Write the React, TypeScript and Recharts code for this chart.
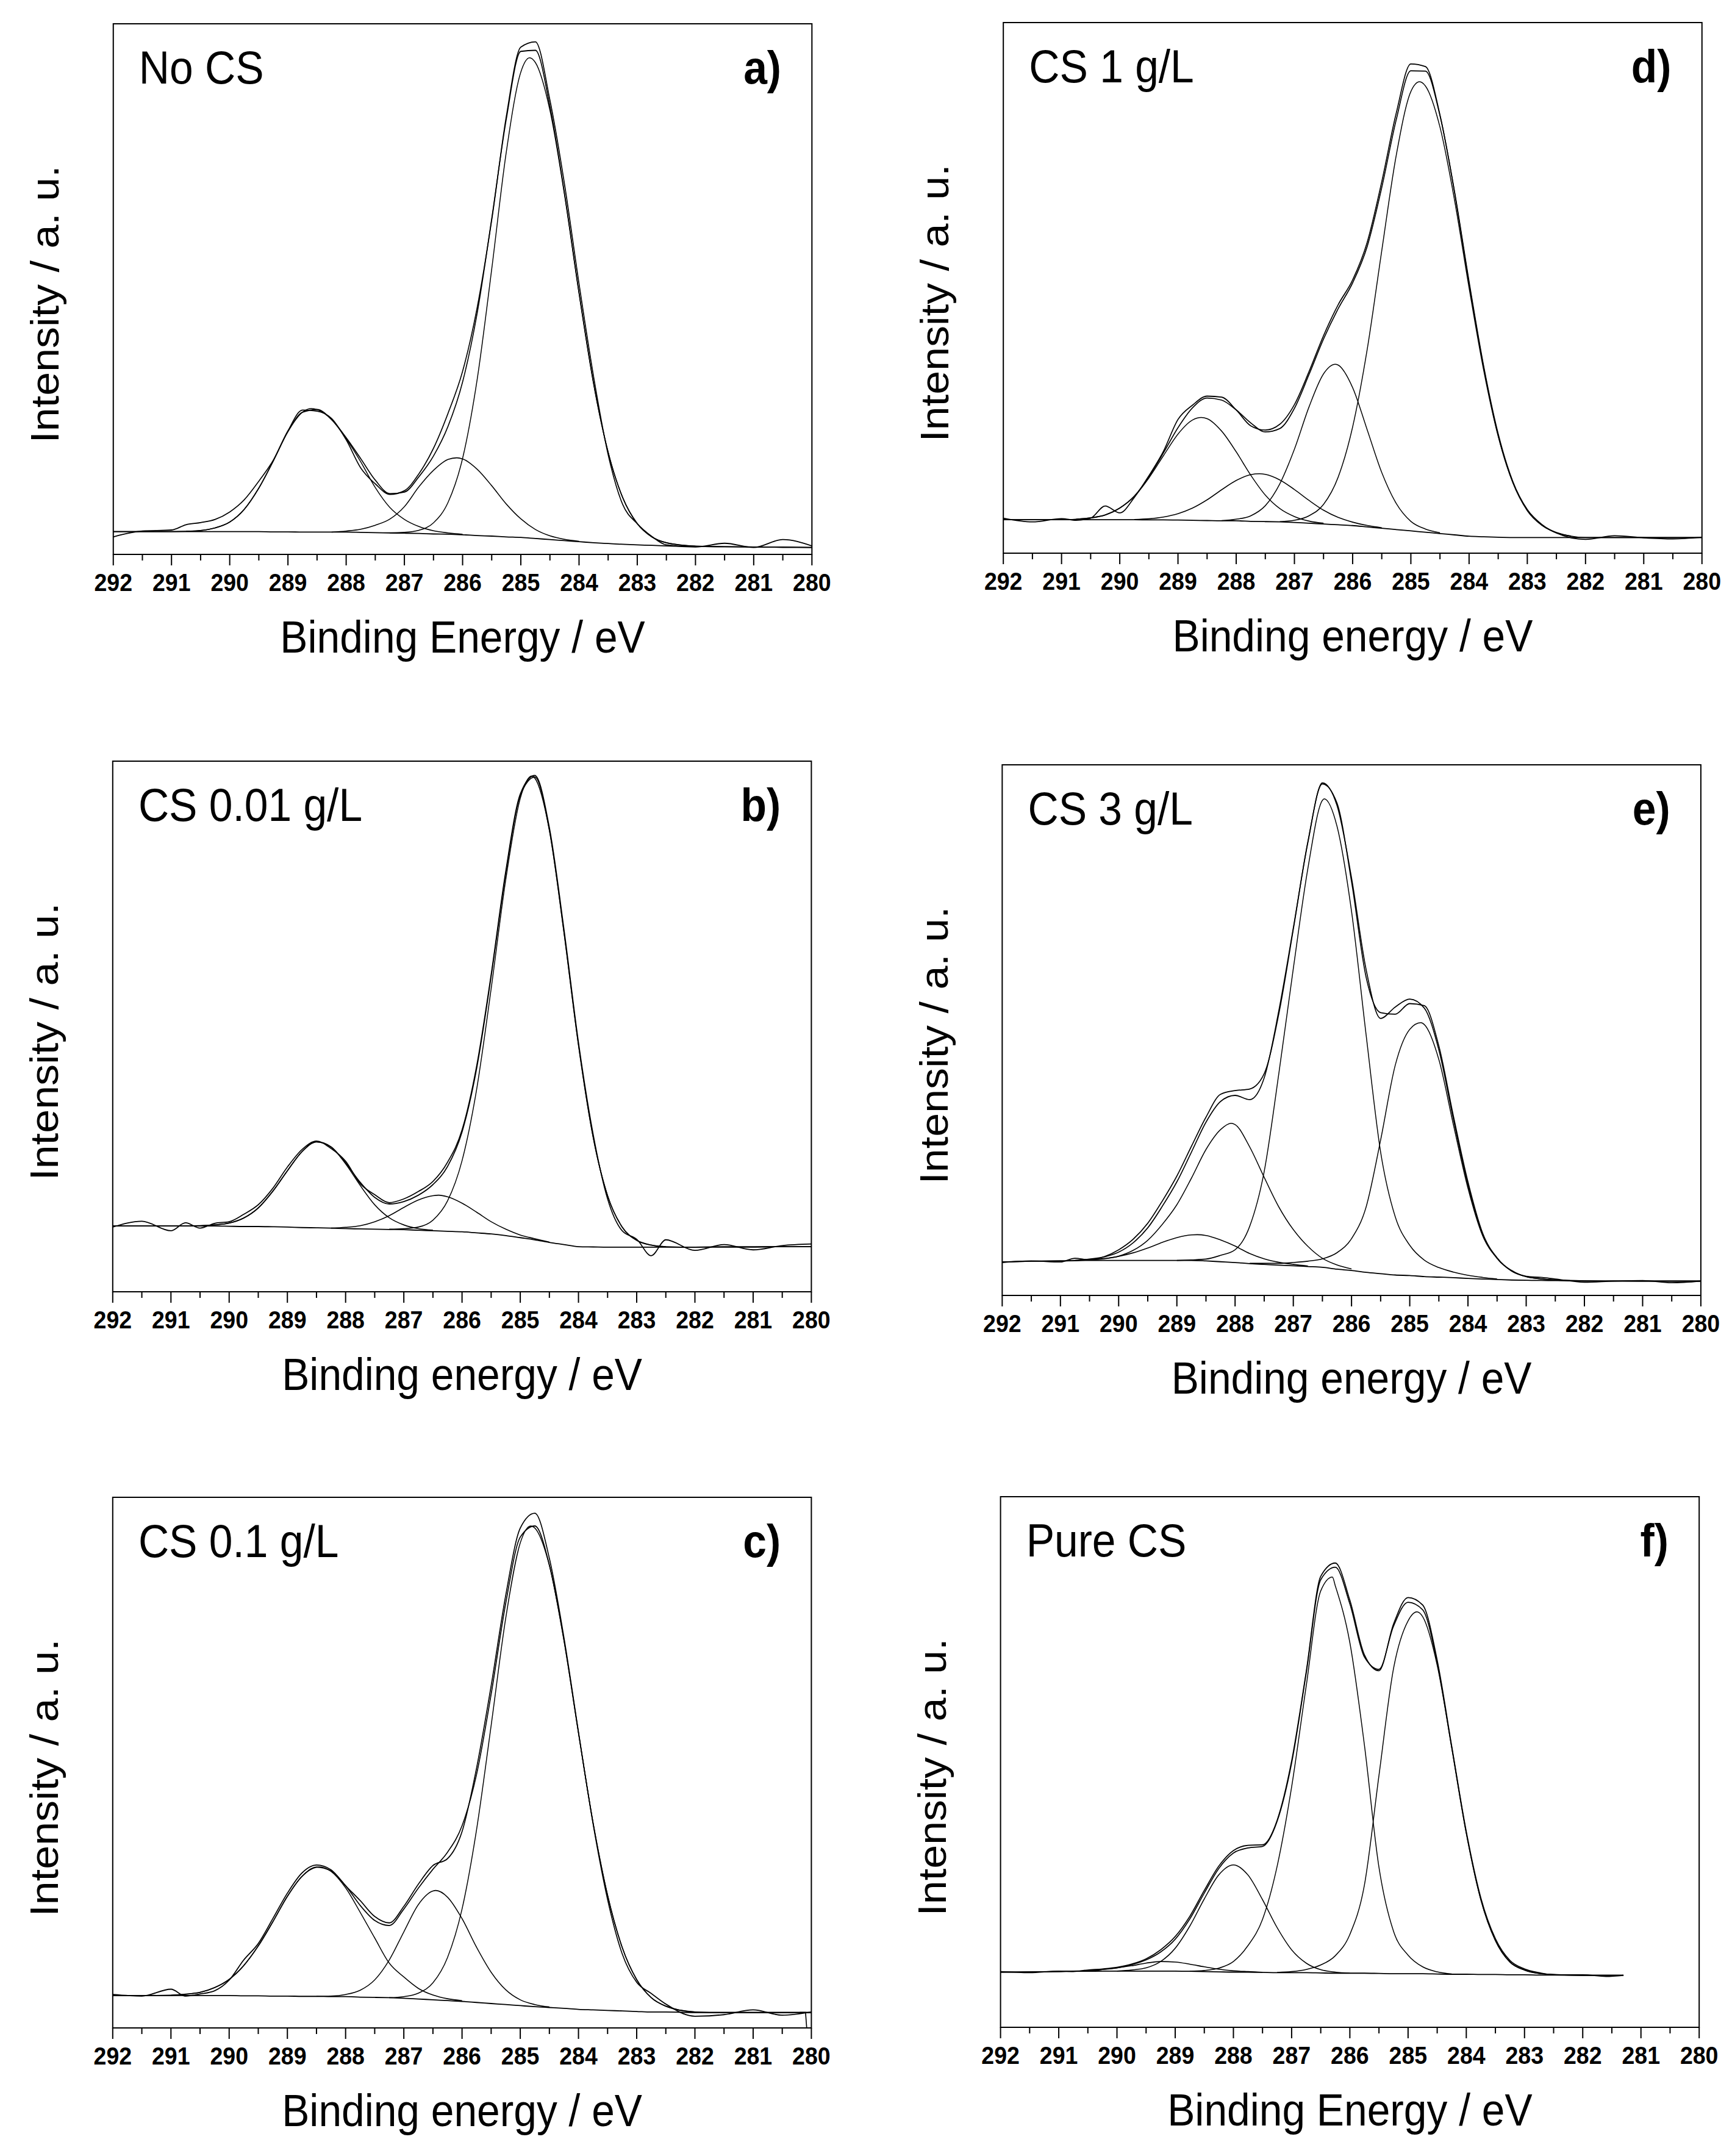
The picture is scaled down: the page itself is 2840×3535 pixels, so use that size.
import React from 'react';
import { LineChart, Line, XAxis, YAxis, ReferenceArea } from 'recharts';

type Pair = [number, number];

// binding energy grid (eV) shared by background / envelope / measured curves
const gridE = [292, 291.5, 291, 290.75, 290.5, 290.25, 290, 289.75, 289.5, 289.25, 289, 288.75, 288.5, 288.25, 288, 287.75, 287.5, 287.25, 287, 286.75, 286.5, 286.25, 286, 285.75, 285.5, 285.25, 285, 284.75, 284.5, 284.25, 284, 283.75, 283.5, 283.25, 283, 282.75, 282.5, 282, 281.5, 281, 280.5, 280];
const gridF = [292, 291.5, 291, 290.75, 290.5, 290.25, 290, 289.75, 289.5, 289.25, 289, 288.75, 288.5, 288.25, 288, 287.75, 287.5, 287.25, 287, 286.75, 286.5, 286.25, 286, 285.75, 285.5, 285.25, 285, 284.75, 284.5, 284.25, 284, 283.75, 283.5, 283.25, 283, 282.75, 282.5, 282, 281.6, 281.3];
const xTicks = [292, 291.5, 291, 290.5, 290, 289.5, 289, 288.5, 288, 287.5, 287, 286.5, 286, 285.5, 285, 284.5, 284, 283.5, 283, 282.5, 282, 281.5, 281, 280.5, 280];

// a) No CS
const bgA = [4.3, 4.3, 4.3, 4.3, 4.3, 4.3, 4.3, 4.3, 4.3, 4.25, 4.25, 4.2, 4.2, 4.2, 4.2, 4.15, 4.1, 4.05, 4.0, 3.95, 3.85, 3.8, 3.7, 3.55, 3.45, 3.3, 3.2, 3.0, 2.8, 2.6, 2.4, 2.2, 2.05, 1.9, 1.8, 1.7, 1.6, 1.5, 1.45, 1.4, 1.35, 1.3];
const envA = [4.3, 4.3, 4.3, 4.35, 4.5, 5.0, 6.1, 8.5, 12.5, 17.65, 23.15, 26.8, 27.3, 25.4, 22.0, 18.05, 14.0, 11.45, 11.75, 14.65, 18.55, 24.15, 32.5, 45.45, 63.25, 82.0, 94.8, 95.0, 84.4, 68.05, 49.3, 32.2, 19.25, 10.7, 5.8, 3.3, 2.2, 1.55, 1.45, 1.4, 1.35, 1.3];
const expA = [3.3, 4.4, 4.6, 5.6, 6.0, 6.6, 8.0, 10.3, 13.8, 17.8, 23.3, 27.2, 27.0, 25.6, 21.6, 16.3, 13.3, 11.3, 12.0, 15.2, 20.0, 26.6, 34.5, 46.5, 63.0, 82.5, 95.6, 96.6, 85.6, 69.8, 51.0, 33.5, 18.8, 9.4, 5.8, 3.4, 1.8, 1.4, 2.1, 1.3, 2.8, 1.6];
const compA1: Pair[] = [[290.75, 4.35], [290.5, 4.5], [290.25, 5.0], [290, 6.1], [289.75, 8.5], [289.5, 12.5], [289.25, 17.65], [289, 23.15], [288.75, 26.8], [288.6, 27.5], [288.5, 27.3], [288.25, 25.4], [288, 21.8], [287.75, 17.45], [287.5, 12.6], [287.25, 8.85], [287, 6.6], [286.75, 5.25], [286.5, 4.45], [286.25, 4.05], [286, 3.8]];
const compA2: Pair[] = [[288.25, 4.2], [288, 4.4], [287.75, 4.75], [287.5, 5.5], [287.25, 6.65], [287, 9.0], [286.75, 12.75], [286.5, 15.85], [286.25, 17.9], [286.1, 18.2], [286, 18.0], [285.75, 16.05], [285.5, 12.95], [285.25, 9.5], [285, 6.7], [284.75, 4.7], [284.5, 3.5], [284.25, 2.85], [284, 2.48]];
const compA3: Pair[] = [[287.25, 4.05], [287, 4.15], [286.75, 4.55], [286.5, 5.95], [286.25, 9.8], [286, 18.1], [285.75, 32.95], [285.5, 53.75], [285.25, 75.8], [285, 90.9], [284.85, 93.6], [284.75, 92.7], [284.5, 83.7], [284.25, 67.8], [284, 49.2], [283.75, 32.2], [283.5, 19.25], [283.25, 10.7], [283, 5.8], [282.75, 3.3], [282.5, 2.2], [282, 1.55]];

// b) CS 0.01 g/L
const bgB = [12.4, 12.4, 12.4, 12.4, 12.4, 12.4, 12.35, 12.3, 12.3, 12.25, 12.2, 12.1, 12.05, 12.0, 11.9, 11.85, 11.8, 11.75, 11.7, 11.6, 11.5, 11.4, 11.3, 11.1, 10.9, 10.6, 10.2, 9.8, 9.3, 8.9, 8.5, 8.45, 8.4, 8.4, 8.4, 8.4, 8.4, 8.4, 8.45, 8.45, 8.5, 8.5];
const envB = [12.4, 12.4, 12.4, 12.4, 12.45, 12.6, 12.95, 13.9, 15.8, 18.95, 22.8, 26.4, 28.25, 27.3, 24.3, 20.65, 17.8, 16.55, 17.0, 18.2, 20.2, 23.6, 30.1, 42.0, 59.4, 78.8, 93.5, 97.0, 87.0, 67.8, 46.5, 29.25, 18.1, 12.2, 9.7, 8.8, 8.5, 8.4, 8.45, 8.45, 8.5, 8.5];
const expB = [12.2, 13.3, 11.5, 13.0, 12.0, 12.9, 13.2, 14.6, 16.4, 19.5, 23.5, 26.8, 28.4, 27.0, 24.6, 20.4, 18.3, 16.8, 17.5, 18.9, 20.8, 24.4, 30.5, 42.5, 59.8, 79.2, 93.8, 97.3, 87.5, 68.4, 47.0, 29.8, 17.5, 11.5, 9.9, 6.8, 9.8, 7.8, 8.9, 7.9, 8.7, 9.0];
const compB1: Pair[] = [[290.5, 12.45], [290.25, 12.6], [290, 12.95], [289.75, 13.9], [289.5, 15.8], [289.25, 18.95], [289, 22.8], [288.75, 26.4], [288.5, 28.25], [288.25, 27.3], [288, 24.1], [287.75, 20.05], [287.5, 16.4], [287.25, 13.95], [287, 12.6], [286.75, 11.9], [286.5, 11.6]];
const compB2: Pair[] = [[288.25, 12.0], [288, 12.15], [287.75, 12.45], [287.5, 13.2], [287.25, 14.35], [287, 15.9], [286.75, 17.3], [286.5, 18.1], [286.4, 18.2], [286.25, 17.9], [286, 16.7], [285.75, 15.0], [285.5, 13.2], [285.25, 11.8], [285, 10.7], [284.75, 10.0], [284.5, 9.35]];
const compB3: Pair[] = [[287.25, 11.8], [287, 11.9], [286.75, 12.2], [286.5, 13.5], [286.25, 17.1], [286, 24.7], [285.75, 38.1], [285.5, 57.1], [285.25, 77.6], [285, 93.0], [284.8, 97.2], [284.75, 96.8], [284.5, 87.0], [284.25, 67.8], [284, 46.5], [283.75, 29.25], [283.5, 18.1], [283.25, 12.2], [283, 9.7], [282.75, 8.8], [282.5, 8.5]];

// c) CS 0.1 g/L
const bgC = [6.1, 6.1, 6.1, 6.1, 6.1, 6.1, 6.1, 6.05, 6.05, 6.0, 6.0, 5.95, 5.95, 5.9, 5.9, 5.8, 5.75, 5.7, 5.6, 5.45, 5.3, 5.15, 5.0, 4.8, 4.6, 4.4, 4.2, 4.0, 3.85, 3.7, 3.5, 3.4, 3.3, 3.2, 3.1, 3.0, 3.0, 2.9, 2.9, 2.9, 2.9, 2.9];
const envC = [6.1, 6.1, 6.15, 6.35, 6.7, 7.6, 9.15, 11.75, 15.45, 20.0, 24.8, 28.55, 30.3, 29.6, 26.8, 23.1, 20.25, 19.3, 22.4, 26.35, 29.9, 33.1, 38.1, 47.8, 62.9, 80.0, 92.5, 94.6, 87.25, 73.1, 55.6, 38.7, 25.0, 15.2, 9.1, 5.7, 4.1, 3.0, 2.9, 2.9, 2.9, 2.9];
const expC = [6.3, 6.0, 7.3, 6.0, 6.4, 7.0, 9.0, 12.8, 15.9, 20.6, 25.4, 29.2, 30.7, 29.8, 26.8, 24.0, 21.0, 19.8, 22.9, 27.1, 30.6, 31.9, 37.0, 49.0, 64.5, 81.5, 94.2, 97.0, 88.5, 73.6, 55.8, 38.5, 24.2, 14.0, 8.6, 6.5, 4.5, 2.2, 2.5, 3.4, 2.4, 3.0];
const compC1: Pair[] = [[291, 6.15], [290.75, 6.35], [290.5, 6.7], [290.25, 7.6], [290, 9.15], [289.75, 11.75], [289.5, 15.45], [289.25, 20.0], [289, 24.8], [288.75, 28.55], [288.5, 30.3], [288.45, 30.35], [288.25, 29.5], [288, 26.4], [287.75, 21.8], [287.5, 16.95], [287.25, 12.2], [287, 9.6], [286.75, 7.45], [286.5, 6.2], [286.25, 5.5], [286, 5.15]];
const compC2: Pair[] = [[288.5, 5.95], [288.25, 6.0], [288, 6.3], [287.75, 7.1], [287.5, 9.05], [287.25, 12.8], [287, 18.1], [286.75, 23.25], [286.5, 25.8], [286.45, 25.9], [286.25, 24.65], [286, 20.6], [285.75, 15.2], [285.5, 10.5], [285.25, 7.2], [285, 5.3], [284.75, 4.4], [284.5, 3.95]];
const compC3: Pair[] = [[287.25, 5.7], [287, 5.9], [286.75, 6.55], [286.5, 8.5], [286.25, 13.25], [286, 22.4], [285.75, 37.4], [285.5, 57.0], [285.25, 77.2], [285, 91.4], [284.82, 94.6], [284.75, 94.2], [284.5, 87.15], [284.25, 73.1], [284, 55.6], [283.75, 38.7], [283.5, 25.0], [283.25, 15.2], [283, 9.1], [282.75, 5.7], [282.5, 4.1], [282.25, 3.35], [282, 3.0]];
// last recorded channel of c) drops to zero
const tailC: Pair[] = [[280.2, 2.9], [280.1, 2.9], [280.08, 0]];

// d) CS 1 g/L
const bgD = [6.3, 6.3, 6.3, 6.3, 6.3, 6.3, 6.3, 6.3, 6.28, 6.27, 6.25, 6.2, 6.15, 6.1, 6.1, 6.0, 5.95, 5.9, 5.8, 5.65, 5.5, 5.35, 5.2, 4.95, 4.7, 4.45, 4.2, 3.95, 3.7, 3.45, 3.2, 3.1, 3.0, 2.95, 2.95, 2.95, 2.95, 2.95, 2.95, 2.95, 2.95, 2.95];
const envD = [6.3, 6.3, 6.3, 6.4, 6.65, 7.2, 8.5, 10.75, 14.4, 18.9, 23.65, 27.4, 29.25, 28.85, 27.0, 24.55, 22.85, 23.5, 27.3, 33.65, 40.35, 46.05, 50.95, 57.8, 68.9, 81.75, 90.9, 90.85, 82.45, 68.15, 51.2, 35.3, 22.5, 13.55, 8.15, 5.3, 3.9, 2.95, 2.95, 2.95, 2.95, 2.95];
const expD = [6.6, 5.9, 6.5, 6.2, 6.6, 8.9, 7.6, 10.5, 14.6, 19.2, 25.2, 27.9, 29.6, 29.4, 27.0, 24.0, 23.2, 24.3, 28.0, 34.2, 41.0, 46.8, 51.5, 58.6, 70.0, 83.0, 92.2, 91.7, 82.6, 68.0, 50.8, 35.0, 22.2, 13.4, 8.2, 5.4, 3.8, 2.6, 3.3, 2.9, 2.7, 3.0];
const compD1: Pair[] = [[290.75, 6.4], [290.5, 6.65], [290.25, 7.2], [290, 8.5], [289.75, 10.7], [289.5, 14.18], [289.25, 18.37], [289, 22.45], [288.75, 25.1], [288.6, 25.57], [288.5, 25.35], [288.25, 23.0], [288, 19.1], [287.75, 14.7], [287.5, 10.95], [287.25, 8.4], [287, 6.9], [286.75, 6.05], [286.5, 5.65]];
const compD2: Pair[] = [[289.75, 6.35], [289.5, 6.48], [289.25, 6.82], [289, 7.45], [288.75, 8.5], [288.5, 10.05], [288.25, 11.95], [288, 13.7], [287.75, 14.8], [287.6, 14.97], [287.5, 14.85], [287.25, 13.8], [287, 12.0], [286.75, 9.95], [286.5, 8.1], [286.25, 6.75], [286, 5.85], [285.75, 5.22], [285.5, 4.8]];
const compD3: Pair[] = [[288.25, 6.15], [288, 6.4], [287.75, 7.05], [287.5, 8.95], [287.25, 13.1], [287, 19.6], [286.75, 27.55], [286.5, 33.8], [286.3, 35.6], [286.25, 35.45], [286, 31.2], [285.75, 23.25], [285.5, 15.2], [285.25, 9.35], [285, 6.0], [284.75, 4.55], [284.5, 3.85]];
const compD4: Pair[] = [[287.25, 5.95], [287, 6.2], [286.75, 7.05], [286.5, 9.2], [286.25, 14.3], [286, 23.8], [285.75, 38.4], [285.5, 57.0], [285.25, 75.05], [285, 87.0], [284.85, 88.85], [284.75, 88.05], [284.5, 80.3], [284.25, 66.55], [284, 50.0], [283.75, 34.5], [283.5, 22.0], [283.25, 13.3], [283, 8.0], [282.75, 5.25], [282.5, 3.85], [282.25, 3.25]];

// e) CS 3 g/L
const bgE = [6.3, 6.45, 6.5, 6.55, 6.6, 6.6, 6.6, 6.6, 6.6, 6.6, 6.6, 6.6, 6.5, 6.35, 6.2, 6.0, 5.85, 5.7, 5.6, 5.45, 5.3, 4.95, 4.7, 4.35, 4.1, 3.85, 3.75, 3.55, 3.45, 3.35, 3.2, 3.1, 3.0, 2.9, 2.85, 2.82, 2.8, 2.75, 2.72, 2.7, 2.7, 2.7];
const envE = [6.3, 6.45, 6.5, 6.6, 6.85, 7.26, 8.16, 9.93, 12.74, 16.8, 21.4, 27.0, 32.65, 36.55, 37.7, 36.9, 41.0, 53.6, 69.25, 85.35, 96.6, 92.35, 78.7, 61.45, 52.2, 54.35, 55.85, 54.15, 46.25, 33.2, 20.8, 11.6, 7.1, 4.6, 3.55, 3.12, 2.9, 2.75, 2.72, 2.7, 2.7, 2.7];
const expE = [6.2, 6.5, 6.3, 7.0, 6.7, 7.3, 8.6, 10.6, 13.6, 17.8, 22.5, 28.1, 33.6, 37.9, 38.6, 38.9, 41.8, 53.0, 69.0, 85.5, 96.4, 92.8, 78.0, 60.0, 53.3, 53.0, 55.0, 54.6, 47.0, 33.8, 21.4, 11.8, 7.0, 4.7, 3.6, 3.4, 3.1, 2.5, 2.7, 2.8, 2.4, 2.7];
const compE1: Pair[] = [[290.75, 6.6], [290.5, 6.75], [290.25, 6.96], [290, 7.36], [289.75, 8.03], [289.5, 8.94], [289.25, 10.0], [289, 10.9], [288.75, 11.4], [288.65, 11.45], [288.5, 11.3], [288.25, 10.45], [288, 9.3], [287.75, 7.9], [287.5, 6.9], [287.25, 6.25], [287, 5.85], [286.75, 5.55]];
const compE2: Pair[] = [[290.5, 6.7], [290.25, 6.9], [290, 7.4], [289.75, 8.5], [289.5, 10.4], [289.25, 13.4], [289, 17.1], [288.75, 22.1], [288.5, 27.5], [288.25, 31.25], [288.07, 32.45], [288, 32.2], [287.75, 28.0], [287.5, 22.25], [287.25, 16.7], [287, 12.4], [286.75, 9.25], [286.5, 7.0], [286.25, 5.75], [286, 5.0]];
const compE3: Pair[] = [[289, 6.6], [288.75, 6.7], [288.5, 6.85], [288.25, 7.55], [288, 8.6], [287.75, 13.0], [287.5, 23.35], [287.25, 41.7], [287, 61.6], [286.75, 80.45], [286.5, 93.3], [286.47, 93.6], [286.25, 88.45], [286, 72.4], [285.75, 49.15], [285.5, 27.0], [285.25, 14.85], [285, 9.45], [284.75, 6.65], [284.5, 5.25], [284.25, 4.4], [284, 3.8], [283.75, 3.4], [283.5, 3.1]];
const compE4: Pair[] = [[287.75, 6.05], [287.5, 6.05], [287.25, 6.05], [287, 6.2], [286.75, 6.45], [286.5, 6.9], [286.25, 8.05], [286, 10.7], [285.75, 16.65], [285.5, 29.3], [285.25, 43.35], [285, 50.15], [284.81, 51.4], [284.75, 51.05], [284.5, 44.45], [284.25, 32.15], [284, 20.2], [283.75, 11.3], [283.5, 7.0], [283.25, 4.6], [283, 3.55], [282.75, 3.12], [282.5, 2.9], [282.25, 2.8]];

// f) Pure CS
const bgF = [10.4, 10.45, 10.5, 10.55, 10.55, 10.6, 10.6, 10.6, 10.6, 10.6, 10.6, 10.55, 10.5, 10.45, 10.4, 10.4, 10.35, 10.3, 10.3, 10.3, 10.25, 10.2, 10.2, 10.2, 10.15, 10.1, 10.1, 10.1, 10.05, 10.0, 10.0, 9.95, 9.95, 9.9, 9.9, 9.85, 9.85, 9.8, 9.8, 9.8];
const envF = [10.4, 10.45, 10.5, 10.6, 10.65, 10.9, 11.2, 11.8, 12.7, 14.2, 16.6, 20.4, 25.3, 29.95, 32.85, 33.8, 34.1, 38.8, 49.8, 66.7, 84.35, 86.7, 79.8, 69.8, 67.45, 75.6, 80.1, 78.7, 68.65, 52.7, 36.6, 24.05, 16.35, 12.3, 10.8, 10.15, 9.95, 9.8, 9.8, 9.8];
const expF = [10.5, 10.3, 10.6, 10.5, 10.8, 11.0, 11.3, 11.9, 12.9, 14.6, 17.1, 20.9, 25.8, 30.4, 33.3, 34.3, 34.4, 39.0, 50.2, 67.0, 85.0, 87.5, 80.5, 70.2, 67.2, 76.0, 81.0, 79.6, 69.2, 53.0, 36.9, 24.4, 16.7, 12.6, 11.0, 10.3, 9.9, 9.9, 9.6, 9.8];
const compF1: Pair[] = [[290.75, 10.6], [290.5, 10.65], [290.25, 10.9], [290, 11.2], [289.75, 11.6], [289.5, 12.1], [289.25, 12.4], [289, 12.3], [288.75, 11.9], [288.5, 11.4], [288.25, 10.95], [288, 10.65], [287.75, 10.5], [287.5, 10.38]];
const compF2: Pair[] = [[290, 10.6], [289.75, 10.8], [289.5, 11.2], [289.25, 12.4], [289, 14.9], [288.75, 19.05], [288.5, 24.2], [288.25, 28.75], [288, 30.6], [287.75, 28.7], [287.5, 24.05], [287.25, 18.8], [287, 14.6], [286.75, 12.1], [286.5, 10.85], [286.25, 10.4], [286, 10.2]];
const compF3: Pair[] = [[288.75, 10.55], [288.5, 10.7], [288.25, 11.15], [288, 12.4], [287.75, 15.4], [287.5, 20.35], [287.25, 30.3], [287, 45.3], [286.75, 64.3], [286.5, 82.25], [286.3, 84.85], [286.25, 83.2], [286, 72.5], [285.75, 53.2], [285.5, 30.15], [285.25, 18.1], [285, 13.6], [284.75, 11.4], [284.5, 10.45], [284.25, 10.05]];
const compF4: Pair[] = [[287.25, 10.35], [287, 10.5], [286.75, 10.9], [286.5, 11.75], [286.25, 13.5], [286, 17.5], [285.75, 26.8], [285.5, 47.45], [285.25, 67.6], [285, 76.6], [284.85, 78.3], [284.75, 77.4], [284.5, 68.25], [284.25, 52.7], [284, 36.6], [283.75, 24.05], [283.5, 16.35], [283.25, 12.3], [283, 10.8], [282.75, 10.15], [282.5, 9.95], [282.25, 9.85]];

const toRows = (xs: number[], ys: number[]) => xs.map((e, i) => ({ e, v: ys[i] }));
const pairRows = (ps: Pair[]) => ps.map(([e, v]) => ({ e, v }));

const panels = [
  { title: 'No CS', letter: 'a)', xLabel: 'Binding Energy / eV', grid: gridE, bg: bgA, env: envA, exp: expA, comps: [compA1, compA2, compA3], extra: [] as Pair[][] },
  { title: 'CS 0.01 g/L', letter: 'b)', xLabel: 'Binding energy / eV', grid: gridE, bg: bgB, env: envB, exp: expB, comps: [compB1, compB2, compB3], extra: [] as Pair[][] },
  { title: 'CS 0.1 g/L', letter: 'c)', xLabel: 'Binding energy / eV', grid: gridE, bg: bgC, env: envC, exp: expC, comps: [compC1, compC2, compC3], extra: [tailC] },
  { title: 'CS 1 g/L', letter: 'd)', xLabel: 'Binding energy / eV', grid: gridE, bg: bgD, env: envD, exp: expD, comps: [compD1, compD2, compD3, compD4], extra: [] as Pair[][] },
  { title: 'CS 3 g/L', letter: 'e)', xLabel: 'Binding energy / eV', grid: gridE, bg: bgE, env: envE, exp: expE, comps: [compE1, compE2, compE3, compE4], extra: [] as Pair[][] },
  { title: 'Pure CS', letter: 'f)', xLabel: 'Binding Energy / eV', grid: gridF, bg: bgF, env: envF, exp: expF, comps: [compF1, compF2, compF3, compF4], extra: [] as Pair[][] },
];

// chart box positions, in un-squeezed page units
const layout = [
  { left: 33, top: 29 },
  { left: 32, top: 1238 },
  { left: 32, top: 2445 },
  { left: 1628, top: 27 },
  { left: 1626, top: 1244 },
  { left: 1623, top: 2444 },
];

const SQUEEZE = 0.915;
const RIGHT = 60;
const CW = 170 + 1252 + RIGHT;
const CH = 1060;
const FONT = '"Liberation Sans", Arial, Helvetica, sans-serif';

function EnergyTick(props: any) {
  const { x, y, payload } = props;
  const major = Number.isInteger(payload.value);
  return (
    <g>
      <line x1={x} x2={x} y1={y} y2={y + (major ? 18 : 10)} stroke="#000" strokeWidth={2.2} />
      {major && (
        <text x={x} y={y + 60} textAnchor="middle" fontFamily={FONT} fontWeight="bold" fontSize={41} fill="#000">
          {payload.value}
        </text>
      )}
    </g>
  );
}

function Panel({ p, pos }: { p: (typeof panels)[number]; pos: { left: number; top: number } }) {
  const line = { type: 'monotone' as const, dataKey: 'v', stroke: '#000', dot: false, activeDot: false, isAnimationActive: false };
  return (
    <div style={{ position: 'absolute', left: pos.left, top: pos.top }}>
      <LineChart width={CW} height={CH} margin={{ top: 10, right: RIGHT, bottom: 0, left: 0 }}>
        <XAxis
          dataKey="e"
          type="number"
          domain={[280, 292]}
          reversed
          ticks={xTicks}
          interval={0}
          allowDataOverflow
          axisLine={false}
          tickLine={false}
          tickSize={0}
          tickMargin={0}
          height={180}
          tick={<EnergyTick />}
          label={{
            content: ({ viewBox }: any) => (
              <text x={viewBox.x + viewBox.width / 2} y={viewBox.y + 161} textAnchor="middle" fontFamily={FONT} fontSize={74} fill="#000">
                {p.xLabel}
              </text>
            ),
          }}
        />
        <YAxis
          type="number"
          domain={[0, 100]}
          width={170}
          tick={false}
          axisLine={false}
          tickLine={false}
          allowDataOverflow
          label={{
            content: ({ viewBox }: any) => {
              const lx = viewBox.x + 72;
              const ly = viewBox.y + viewBox.height / 2 + 25;
              return (
                <text x={lx} y={ly} transform={`rotate(-90 ${lx} ${ly})`} textAnchor="middle" fontFamily={FONT} fontSize={70} fill="#000">
                  Intensity / a. u.
                </text>
              );
            },
          }}
        />
        <ReferenceArea
          x1={292}
          x2={280}
          y1={0}
          y2={100}
          fill="none"
          fillOpacity={0}
          stroke="#000"
          strokeWidth={2.2}
          ifOverflow="visible"
          label={{
            content: ({ viewBox }: any) => (
              <g>
                <text x={viewBox.x + 46} y={viewBox.y + 98} fontFamily={FONT} fontSize={76} fill="#000">
                  {p.title}
                </text>
                <text x={viewBox.x + viewBox.width - 55} y={viewBox.y + 98} textAnchor="end" fontFamily={FONT} fontWeight="bold" fontSize={76} fill="#000">
                  {p.letter}
                </text>
              </g>
            ),
          }}
        />
        <Line {...line} data={toRows(p.grid, p.bg)} strokeWidth={1.8} />
        {p.comps.map((c, i) => (
          <Line key={`c${i}`} {...line} data={pairRows(c)} strokeWidth={1.6} />
        ))}
        <Line {...line} data={toRows(p.grid, p.env)} strokeWidth={1.8} />
        <Line {...line} data={toRows(p.grid, p.exp)} strokeWidth={1.8} />
        {p.extra.map((c, i) => (
          <Line key={`x${i}`} {...line} type="linear" data={pairRows(c)} strokeWidth={1.8} />
        ))}
      </LineChart>
    </div>
  );
}

export default function App() {
  return (
    <div style={{ position: 'relative', width: 2840, height: 3535, overflow: 'hidden', background: '#fff' }}>
      <style>{'body{margin:0;background:#fff}'}</style>
      <div
        style={{
          position: 'absolute',
          left: 0,
          top: 0,
          width: Math.ceil(2840 / SQUEEZE),
          height: 3535,
          transform: `scaleX(${SQUEEZE})`,
          transformOrigin: '0 0',
        }}
      >
        {panels.map((p, i) => (
          <Panel key={p.letter} p={p} pos={layout[i]} />
        ))}
      </div>
    </div>
  );
}
